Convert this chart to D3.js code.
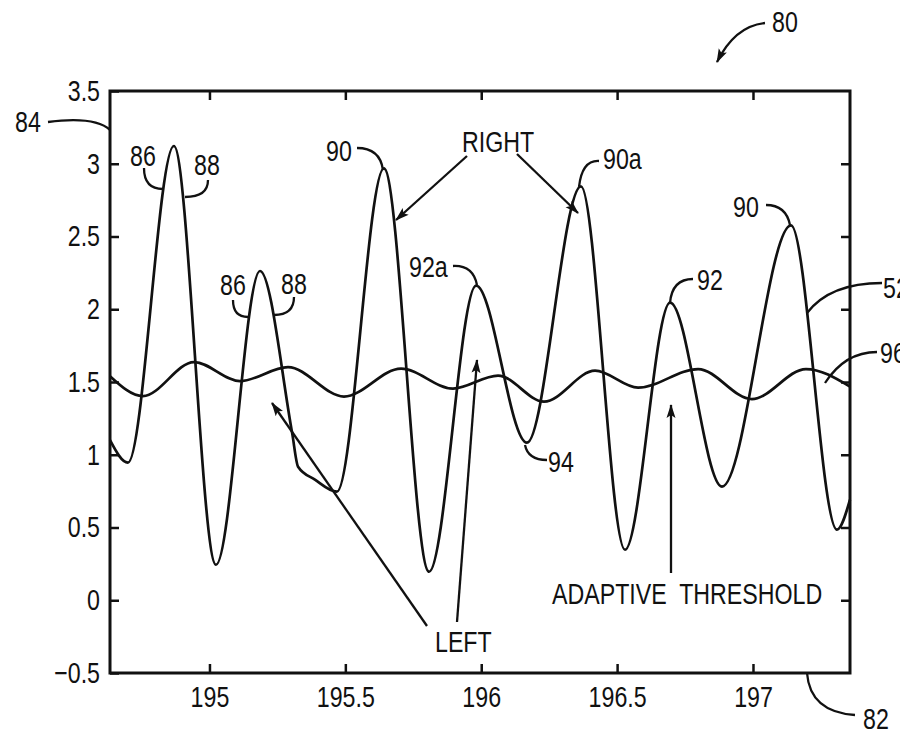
<!DOCTYPE html>
<html>
<head>
<meta charset="utf-8">
<script src="https://cdn.jsdelivr.net/npm/d3@7"></script>
<style>
  body { margin: 0; background: #fff; }
  svg text { font-family: "Liberation Sans", Arial, sans-serif; fill: #111; }
</style>
</head>
<body>
<svg width="900" height="730"></svg>
<script>
// time (s) and amplitude of the sensor signal
const signalTime = [194.634, 194.700, 194.869, 195.024, 195.186, 195.304, 195.326, 195.388, 195.469,
  195.642, 195.808, 195.981, 196.168, 196.367, 196.529, 196.695, 196.886, 197.140, 197.309, 197.357];
const signalValue = [1.10, 0.946, 3.122, 0.244, 2.263, 1.152, 0.918, 0.829, 0.746,
  2.968, 0.196, 2.163, 1.083, 2.844, 0.347, 2.046, 0.781, 2.576, 0.485, 0.691];

// adaptive threshold
const thresholdTime = [194.634, 194.755, 194.943, 195.112, 195.289, 195.495, 195.705, 195.896,
  196.062, 196.231, 196.419, 196.577, 196.798, 196.996, 197.195, 197.357];
const thresholdValue = [1.54, 1.403, 1.637, 1.506, 1.602, 1.400, 1.592, 1.455,
  1.544, 1.365, 1.578, 1.461, 1.589, 1.382, 1.589, 1.468];

const xTicks = [195, 195.5, 196, 196.5, 197];
const xTickLabels = ["195", "195.5", "196", "196.5", "197"];
const yTicks = [-0.5, 0, 0.5, 1, 1.5, 2, 2.5, 3, 3.5];
const yTickLabels = ["\u22120.5", "0", "0.5", "1", "1.5", "2", "2.5", "3", "3.5"];

const svg = d3.select("svg");
const plotL = 110, plotR = 850, plotT = 91, plotB = 673;
const fontSize = 29;
const squeeze = 0.8; // the drawing uses a narrow typeface

const x = d3.scaleLinear().domain([194.634, 197.357]).range([plotL, plotR]);
const y = d3.scaleLinear().domain([-0.5, 3.5]).range([plotB, plotT]);

// arrow heads
svg.append("defs").append("marker")
  .attr("id", "arrow")
  .attr("viewBox", "0 -5 14 10")
  .attr("refX", 13).attr("refY", 0)
  .attr("markerWidth", 14).attr("markerHeight", 10)
  .attr("markerUnits", "userSpaceOnUse")
  .attr("orient", "auto")
  .append("path")
  .attr("d", "M0,-4.5L14,0L0,4.5L3,0Z")
  .attr("fill", "#111");

// curves
const line = d3.line().x(d => x(d[0])).y(d => y(d[1])).curve(d3.curveMonotoneX);
const signal = d3.zip(signalTime, signalValue);
const threshold = d3.zip(thresholdTime, thresholdValue);

svg.append("path").datum(threshold)
  .attr("d", line).attr("fill", "none").attr("stroke", "#111").attr("stroke-width", 2.7);
svg.append("path").datum(signal)
  .attr("d", line).attr("fill", "none").attr("stroke", "#111").attr("stroke-width", 2.7);

// axes, ticks pointing inward on all four sides
function styleAxis(g) {
  g.select(".domain").remove();
  g.selectAll(".tick line").attr("stroke", "#111").attr("stroke-width", 2.5);
  g.selectAll("text")
    .attr("font-size", fontSize).attr("font-family", null).attr("fill", "#111")
    .attr("x", function () { return (+d3.select(this).attr("x") || 0) / squeeze; })
    .attr("transform", `scale(${squeeze},1)`);
}
svg.append("g").attr("transform", `translate(0,${plotB})`)
  .call(d3.axisBottom(x).tickValues(xTicks).tickFormat((d, i) => xTickLabels[i]).tickSizeInner(-9).tickSizeOuter(0).tickPadding(13))
  .call(styleAxis);
svg.append("g").attr("transform", `translate(0,${plotT})`)
  .call(d3.axisTop(x).tickValues(xTicks).tickFormat("").tickSizeInner(-9).tickSizeOuter(0))
  .call(styleAxis);
svg.append("g").attr("transform", `translate(${plotL},0)`)
  .call(d3.axisLeft(y).tickValues(yTicks).tickFormat((d, i) => yTickLabels[i]).tickSizeInner(-9).tickSizeOuter(0).tickPadding(10))
  .call(styleAxis);
svg.append("g").attr("transform", `translate(${plotR},0)`)
  .call(d3.axisRight(y).tickValues(yTicks.slice(1, -1)).tickFormat("").tickSizeInner(-9).tickSizeOuter(0))
  .call(styleAxis);

svg.append("rect")
  .attr("x", plotL).attr("y", plotT).attr("width", plotR - plotL).attr("height", plotB - plotT)
  .attr("fill", "none").attr("stroke", "#111").attr("stroke-width", 3);

// reference numerals with curved leaders
const labels = [
  { t: "80", x: 772, y: 32 },
  { t: "84", x: 15, y: 132 },
  { t: "86", x: 130, y: 166 },
  { t: "88", x: 194, y: 175 },
  { t: "86", x: 220, y: 295 },
  { t: "88", x: 281, y: 294 },
  { t: "90", x: 326, y: 161 },
  { t: "RIGHT", x: 462, y: 152 },
  { t: "90a", x: 603, y: 169 },
  { t: "92a", x: 409, y: 277 },
  { t: "92", x: 697, y: 290 },
  { t: "90", x: 733, y: 217 },
  { t: "52", x: 883, y: 298 },
  { t: "96", x: 880, y: 363 },
  { t: "94", x: 548, y: 472 },
  { t: "LEFT", x: 435, y: 652 },
  { t: "ADAPTIVE  THRESHOLD", x: 552, y: 604 },
  { t: "82", x: 863, y: 729 }
];
svg.append("g").selectAll("text").data(labels).join("text")
  .attr("transform", d => `translate(${d.x},${d.y}) scale(${squeeze},1)`)
  .attr("font-size", fontSize)
  .style("white-space", "pre")
  .text(d => d.t);

const leaders = [
  [[48, 122], [95, 116], [110, 130]],
  [[144, 168], [144, 189], [163, 189]],
  [[208, 180], [208, 197], [185, 197]],
  [[233, 300], [233, 317], [248, 317]],
  [[294, 297], [294, 315], [274, 315]],
  [[357, 148], [380, 148], [383, 170]],
  [[599, 161], [582, 160], [579, 187]],
  [[453, 266], [473, 265], [477, 285]],
  [[693, 279], [672, 279], [670, 303]],
  [[766, 205], [786, 205], [790, 225]],
  [[882, 283], [830, 283], [807, 313]],
  [[877, 352], [845, 352], [825, 383]],
  [[547, 460], [528, 460], [525, 445]],
  [[807, 673], [810, 712], [855, 715]]
];
svg.append("g").selectAll("path").data(leaders).join("path")
  .attr("d", d => `M${d[0]}Q${d[1]} ${d[2]}`)
  .attr("fill", "none").attr("stroke", "#111").attr("stroke-width", 2.3);

// pointer arrows
const arrows = [
  { d: "M765,23Q735,26 717,62" },
  { d: "M467,156L396,220" },
  { d: "M517,154L578,213" },
  { d: "M427,626L272,403" },
  { d: "M457,622L477,360" },
  { d: "M671,573L671,405" }
];
svg.append("g").selectAll("path").data(arrows).join("path")
  .attr("d", d => d.d)
  .attr("fill", "none").attr("stroke", "#111").attr("stroke-width", 2.3)
  .attr("marker-end", "url(#arrow)");
</script>
</body>
</html>
